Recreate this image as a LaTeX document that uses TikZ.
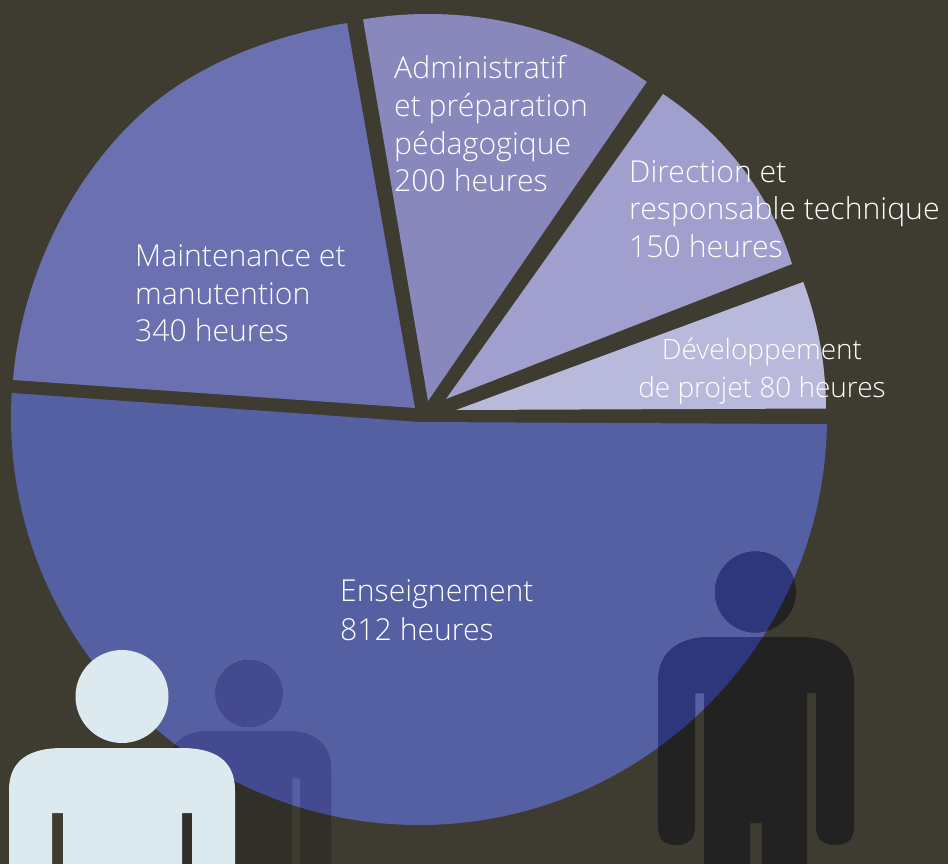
\documentclass[tikz,border=0pt]{standalone}
\usepackage{fontspec}
\setmainfont{Open Sans Light}
\usetikzlibrary{calc}
\definecolor{bgc}{HTML}{3E3B30}
\definecolor{cEns}{HTML}{5560A2}
\definecolor{cMai}{HTML}{6B71B0}
\definecolor{cAdm}{HTML}{8988BC}
\definecolor{cDir}{HTML}{A09FCD}
\definecolor{cDev}{HTML}{B9B9DB}
\definecolor{figW}{HTML}{DCE9EE}
\definecolor{figRbg}{HTML}{222222}
\definecolor{figRpie}{HTML}{2E367C}
\definecolor{figMbg}{HTML}{302F28}
\definecolor{figMpie}{HTML}{434A90}
\tikzset{lab/.style={text=white,inner sep=0pt,font=\fontsize{30.2}{37.6}\selectfont,align=left,anchor=north west}}
% body outlines
\def\figRight{(704,864) -- (704,693) -- (695,693) -- (695,827) .. controls (695,840) and (687,845) .. (676,845) .. controls (665,845) and (658,840) .. (658,827) -- (658,683) .. controls (658,650) and (680,637) .. (712,637) -- (800,637) .. controls (832,637) and (854,650) .. (854,683) -- (854,827) .. controls (854,840) and (847,845) .. (835,845) .. controls (824,845) and (816,840) .. (816,827) -- (816,693) -- (807,693) -- (807,864) -- (762,864) -- (762,823) -- (750,823) -- (750,864) -- cycle (755.5,592) circle[radius=40.5pt]}
\def\figMid{(206,864) -- (206,778) -- (198,778) -- (198,864) -- (167,864) -- (167,770) .. controls (167,743) and (185,731) .. (212,731) -- (286,731) .. controls (313,731) and (331,743) .. (331,770) -- (331,864) -- (300,864) -- (300,778) -- (292,778) -- (292,864) -- cycle (249,693.5) circle[radius=33.5pt]}
\def\clipEns{\clip (420,422) -- (1000,425) -- (1000,1000) -- (-100,1000) -- (-100,385) -- cycle; \clip (419,417) circle[radius=408pt];}
\begin{document}
\begin{tikzpicture}[x=1pt,y=-1pt]
\useasboundingbox (0,0) rectangle (948,864);
\fill[bgc] (0,0) rectangle (948,864);
% slices
\begin{scope}\clipEns \fill[cEns] (-100,-100) rectangle (1000,1000);\end{scope}
\fill[cMai] (415,408) -- (13,380) .. controls (21,282) and (68,181) .. (140,115) .. controls (196,63.5) and (272,36) .. (347,23) -- cycle;
\begin{scope}\clip (428,401) circle[radius=387pt];
\fill[cAdm] (428,401) -- ($(428,401)!1.3!(363,19)$) -- ($(428,401)!1.3!(646,83)$) -- cycle;\end{scope}
\fill[cDir] (446,399) -- (663,94) .. controls (726,136) and (771,196) .. (792,264) -- cycle;
\begin{scope}\clip (456,410) circle[radius=370pt];
\fill[cDev] (456,410) -- ($(456,410)!1.3!(803,282)$) -- (950,408) -- cycle;\end{scope}
% figures
\fill[figRbg] \figRight;
\begin{scope}\clipEns \fill[figRpie] \figRight;\end{scope}
\fill[figMbg] \figMid;
\begin{scope}\clipEns \fill[figMpie] \figMid;\end{scope}
\fill[figW] (63,864) -- (63,813) -- (52,813) -- (52,864) -- (9,864) -- (9,790) .. controls (9,760) and (30,748) .. (62,748) -- (182,748) .. controls (214,748) and (235,760) .. (235,790) -- (235,864) -- (192,864) -- (192,813) -- (182,813) -- (182,864) -- cycle (122,696.5) circle[radius=46.5pt];
% labels
\node[lab] (mai) at (135,244.5) {Maintenance et\\manutention\\340 heures};
\node[lab] (adm) at (394,55.5) {Administratif\\et préparation\\pédagogique\\200 heures};
\node[lab] (dir) at (629,160) {Direction et\\responsable technique\\150 heures};
\node[lab,align=center,anchor=north,font=\fontsize{28}{38}\selectfont] (dev) at (762,338) {Développement\\de projet 80 heures};
\node[lab,font=\fontsize{30.2}{39}\selectfont] (ens) at (340,579) {Enseignement\\812 heures};
\end{tikzpicture}
\end{document}
